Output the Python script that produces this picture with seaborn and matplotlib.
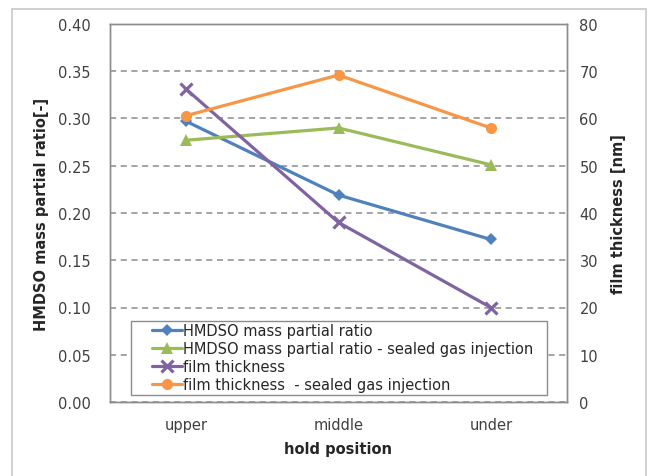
import numpy as np
import pandas as pd
import seaborn as sb
import matplotlib.pyplot as plt
from matplotlib.patches import Rectangle

POSITIONS = ['upper', 'middle', 'under']
HMDSO = [0.297, 0.219, 0.172]
HMDSO_SEALED = [0.277, 0.290, 0.251]
THICK = [66.2, 38.0, 20.0]
THICK_SEALED = [60.6, 69.2, 58.0]

LABELS = ['HMDSO mass partial ratio',
          'HMDSO mass partial ratio - sealed gas injection',
          'film thickness',
          'film thickness  - sealed gas injection']
COLORS = ['#4F81BD', '#9BBB59', '#8064A2', '#F79646']

sb.set_style('white')
plt.rcParams['font.family'] = ['DejaVu Sans']

fig = plt.figure(figsize=(6.54, 4.77), dpi=100)
ax = fig.add_axes([110 / 654, 1 - 403 / 477, 457 / 654, 378 / 477])
ax2 = ax.twinx()

df_l = pd.DataFrame({'pos': POSITIONS, 'a': HMDSO, 'b': HMDSO_SEALED})
df_r = pd.DataFrame({'pos': POSITIONS, 'c': THICK, 'd': THICK_SEALED})

lw = 2.3
sb.lineplot(data=df_l, x='pos', y='a', ax=ax, color=COLORS[0], marker='D',
            markersize=6.5, markeredgewidth=0, linewidth=lw, sort=False, label=LABELS[0])
sb.lineplot(data=df_l, x='pos', y='b', ax=ax, color=COLORS[1], marker='^',
            markersize=8, markeredgewidth=0, linewidth=lw, sort=False, label=LABELS[1])
sb.lineplot(data=df_r, x='pos', y='c', ax=ax2, color=COLORS[2], marker='x',
            markersize=8, markeredgewidth=2.3, markeredgecolor=COLORS[2],
            linewidth=lw, sort=False, label=LABELS[2])
sb.lineplot(data=df_r, x='pos', y='d', ax=ax2, color=COLORS[3], marker='o',
            markersize=8, markeredgewidth=0, linewidth=lw, sort=False, label=LABELS[3])

ax.set_xlim(-0.5, 2.5)
ax.set_ylim(0, 0.40)
ax.set_yticks(np.arange(0, 0.401, 0.05))
ax.set_yticklabels(['{:.2f}'.format(v) for v in np.arange(0, 0.401, 0.05)])
ax2.set_ylim(0, 80)
ax2.set_yticks(np.arange(0, 81, 10))

ax.yaxis.grid(True, color='#8c8c8c', linestyle=(0, (4, 3)), linewidth=1.1)
ax.xaxis.grid(False)
ax2.grid(False)
for a in (ax, ax2):
    for s in a.spines.values():
        s.set_color('#8c8c8c')
        s.set_linewidth(1.0)
    a.tick_params(length=0, labelsize=10.5, labelcolor='#404040')
ax.tick_params(axis='x', pad=11)
ax.tick_params(axis='y', pad=14)
ax2.tick_params(axis='y', pad=9)

ax.set_xlabel('hold position', fontsize=10.5, fontweight='bold', labelpad=6)
ax.set_ylabel('HMDSO mass partial ratio[-]', fontsize=10.5, fontweight='bold', labelpad=6)
ax2.set_ylabel('film thickness [nm]', fontsize=10.5, fontweight='bold', labelpad=9)

h1, l1 = ax.get_legend_handles_labels()
h2, l2 = ax2.get_legend_handles_labels()
ax.get_legend().remove()
ax2.get_legend().remove()
leg = ax2.legend(h1 + h2, l1 + l2, loc='lower left', bbox_to_anchor=(0.092, 0.026),
                 fontsize=10.5, frameon=False, handlelength=2.05,
                 handletextpad=0.1, labelspacing=0.2, borderpad=0, borderaxespad=0)
leg.set_zorder(10)
ax2.add_patch(Rectangle((0.046, 0.0185), 0.910, 0.196, transform=ax2.transAxes,
                        facecolor='white', edgecolor='#8c8c8c', linewidth=1.0, zorder=9))

fig.patches.append(Rectangle((12 / 654, -0.01), (646 - 12) / 654, 1 - 10 / 477 + 0.01,
                             transform=fig.transFigure, fill=False,
                             edgecolor='#c8c8c8', linewidth=1.2))

plt.savefig('out.png', dpi=100)
